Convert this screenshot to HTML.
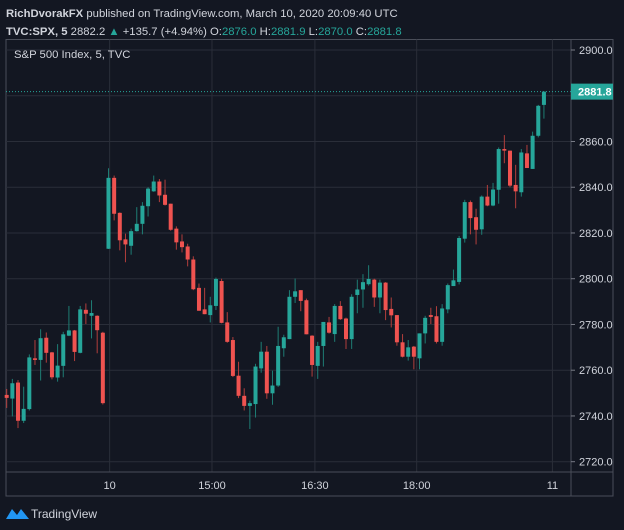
<!DOCTYPE html>
<html><head><meta charset="utf-8"><style>
body{margin:0;background:#131722;width:624px;height:530px;overflow:hidden;font-family:"Liberation Sans",sans-serif}
svg{display:block}
</style></head><body>
<svg id="chart" width="624" height="530">
<rect x="0" y="0" width="624" height="530" fill="#131722"/>
<text x="6" y="17" fill="#d1d4dc" font-size="11.3"><tspan font-weight="bold">RichDvorakFX</tspan> published on TradingView.com, March 10, 2020 20:09:40 UTC</text>
<text x="6" y="35" fill="#d1d4dc" font-size="11.3"><tspan font-weight="bold">TVC:SPX, 5</tspan> 2882.2 <tspan fill="#26a69a">▲</tspan> +135.7 (+4.94%) O:<tspan fill="#26a69a">2876.0</tspan> H:<tspan fill="#26a69a">2881.9</tspan> L:<tspan fill="#26a69a">2870.0</tspan> C:<tspan fill="#26a69a">2881.8</tspan></text>
<rect x="6" y="39.5" width="607" height="456.5" fill="none" stroke="#4a4e59"/>
<g id="grid"></g>
<line x1="6" y1="472" x2="613" y2="472" stroke="#4a4e59"/>
<line x1="571" y1="39.5" x2="571" y2="496" stroke="#4a4e59"/>
<text x="14" y="58" fill="#d1d4dc" font-size="11.3">S&amp;P 500 Index, 5, TVC</text>
<g id="candles"></g>
<g id="axes"></g>
<g>
<path d="M6 519 L12 509 L17 515 L21 509 L29 519 Z" fill="#2196f3"/>
<text x="31" y="518" fill="#d1d4dc" font-size="12">TradingView</text>
</g>
</svg>
<script>
const opens=[2749.2,2747.6,2754.6,2737.9,2743,2765.2,2764.5,2774.2,2767.8,2756.8,2761.9,2775.1,2777.4,2767.6,2786.4,2783.8,2783.8,2776.4,2813.1,2844.1,2828.8,2817.2,2814.4,2820.8,2824.0,2831.7,2838.2,2842.5,2836.7,2832.8,2821.9,2816.3,2814.1,2808.4,2796,2786.6,2784.1,2788.1,2799,2780.9,2773.2,2757.6,2748.8,2744.4,2745.2,2760.8,2768.1,2749.9,2753.3,2769.6,2773.6,2792.1,2795,2790.6,2775.1,2761.9,2770.6,2780.9,2775.8,2788.1,2782.6,2773.6,2792.9,2795.3,2797.6,2799.6,2791.8,2798.3,2786.8,2784.1,2772.2,2765.9,2770.3,2765.2,2776.1,2784.1,2783.6,2772.4,2786.6,2796.8,2798.6,2817.5,2833.5,2826.9,2821.6,2835.9,2832,2838.9,2856.7,2856,2841,2837.8,2854.8,2848,2862.5,2876.0];
const highs=[2751.8,2756.2,2755.7,2752.8,2766.9,2773.2,2777.9,2776.5,2768,2771.4,2776.8,2788.1,2777.6,2788.1,2789.2,2790.6,2784,2776.8,2848.3,2845.1,2829,2819.7,2821.9,2831.3,2833.5,2840,2845.1,2843.6,2843.3,2832.8,2822.9,2819.4,2815.3,2809.8,2797.9,2796,2792.1,2800.5,2800,2785.4,2774.5,2763.7,2752.1,2746.7,2762.8,2772.4,2770.6,2759.8,2779,2775.5,2795,2800.1,2795,2791.3,2775.3,2772.4,2781.1,2783.3,2788.9,2790.2,2783,2793.2,2799.6,2802,2805.9,2800,2799.6,2798.5,2791.8,2784.1,2775.8,2773.2,2770.6,2776.1,2783.8,2787.3,2788,2788.9,2797.9,2804,2818.7,2834.5,2834.2,2830.6,2836.4,2841,2841.9,2857.4,2862.8,2856,2849.8,2856.7,2858.5,2864.3,2876,2881.9];
const lows=[2743.5,2739.8,2734.7,2736.9,2742.4,2762.3,2755.5,2763.3,2756,2755,2756.9,2774.9,2764.0,2767.4,2780.2,2773.9,2767.4,2745,2813,2825.5,2812.4,2807.2,2810.5,2820.6,2819.4,2827.2,2838,2833.5,2832,2821,2812.7,2811.5,2805.4,2795,2786,2784.5,2780.9,2786.3,2780.5,2772,2757,2747.8,2742.4,2734.3,2739.3,2758.9,2747.5,2744.9,2752.7,2765.9,2773.6,2789.4,2785.8,2775.7,2757.2,2756.2,2761.6,2776,2772.4,2782,2769.3,2769.3,2784.9,2787.3,2797,2787.7,2784.9,2781.9,2778.7,2770.7,2765.6,2764.2,2760.4,2760.4,2771.7,2780.2,2771.7,2770.7,2784.9,2796.8,2797.5,2815.8,2819.4,2815,2819.2,2831.7,2831.7,2832.8,2850.5,2840,2830.8,2835.9,2848.4,2848,2861.8,2870.0];
const closes=[2747.9,2754.3,2737.9,2743.1,2765.6,2764.5,2774.0,2767.6,2756.9,2762,2775.7,2777.4,2768.0,2786.6,2784.7,2785,2777.5,2745.6,2844.1,2828.4,2816.8,2815,2820.8,2824.0,2831.9,2839.4,2842.5,2836.4,2832.3,2821.4,2815.9,2813.8,2808.4,2795.4,2786,2784.5,2788.4,2799.9,2780.7,2772.4,2757.5,2748.8,2744.4,2745.6,2761.6,2768.1,2749.9,2753.3,2770.6,2774.4,2792.1,2794.5,2790.3,2775.7,2762.3,2770.6,2781.1,2776.4,2788.1,2782.3,2773.6,2792.1,2795.3,2798.5,2799.9,2791.8,2798.3,2786.3,2784,2772.2,2765.9,2770,2765.9,2776.1,2782.9,2783.3,2772.4,2787,2797.2,2799.3,2817.8,2833.5,2826.5,2821.4,2835.9,2832,2839,2856.7,2856,2840.7,2838.2,2855.2,2848.4,2862.5,2875.6,2881.8];
const priceTicks=[2900,2880,2860,2840,2820,2800,2780,2760,2740,2720];
const timeLabels=["10","15:00","16:30","18:00","11"];
const timeIndex=[18.2,36.3,54.5,72.5,96.5];
const lastPrice=2881.8;

const NS="http://www.w3.org/2000/svg";
const yS=p=>50+(2900-p)*(411.7/180);
const xS=i=>6.7+i*5.655;
function mk(tag,attrs,parent){const e=document.createElementNS(NS,tag);for(const k in attrs)e.setAttribute(k,attrs[k]);parent.appendChild(e);return e;}
const grid=document.getElementById('grid'),cg=document.getElementById('candles'),ax=document.getElementById('axes');
priceTicks.forEach(p=>{
  const l=mk('line',{x1:6,x2:571,y1:yS(p),y2:yS(p),stroke:'#2a2e39'},grid);
  
  
  const t=mk('line',{x1:571,x2:575,y1:yS(p),y2:yS(p),stroke:'#787b86'},ax);
  
  
  const tx=mk('text',{x:579,y:yS(p)+4,fill:'#d1d4dc','font-size':11},ax);
  tx.textContent=p.toFixed(1);
  
  
});
timeLabels.forEach((s,j)=>{
  const x=xS(timeIndex[j]);
  const l=mk('line',{x1:x,x2:x,y1:39.5,y2:472,stroke:'#2a2e39'},grid);
  
  
  const tx=mk('text',{x:x,y:489,fill:'#d1d4dc','font-size':11,'text-anchor':'middle'},ax);
  tx.textContent=s;
  
  
});
opens.forEach((o,i)=>{
  const c=closes[i],up=c>=o,col=up?'#26a69a':'#ef5350',x=xS(i);
  const g=mk('g',{},cg);
  
  
  mk('line',{x1:x,x2:x,y1:yS(highs[i]),y2:yS(lows[i]),stroke:up?'#1e7d74':'#b23e3c','stroke-width':1},g);
  const top=yS(Math.max(o,c)),h=Math.max(1.5,Math.abs(yS(o)-yS(c)));
  mk('rect',{x:x-2,y:top,width:4,height:h,fill:col},g);
});
const ly=yS(lastPrice);
const dl=mk('line',{x1:6,x2:571,y1:ly,y2:ly,stroke:'#26a69a','stroke-dasharray':'1 2'},ax);


const lb=mk('rect',{x:571,y:ly-8,width:42,height:16,fill:'#26a69a'},ax);


const lt=mk('text',{x:578,y:ly+4,fill:'#ffffff','font-size':11,'font-weight':'bold'},ax);
lt.textContent=lastPrice.toFixed(1);


</script>
</body></html>
